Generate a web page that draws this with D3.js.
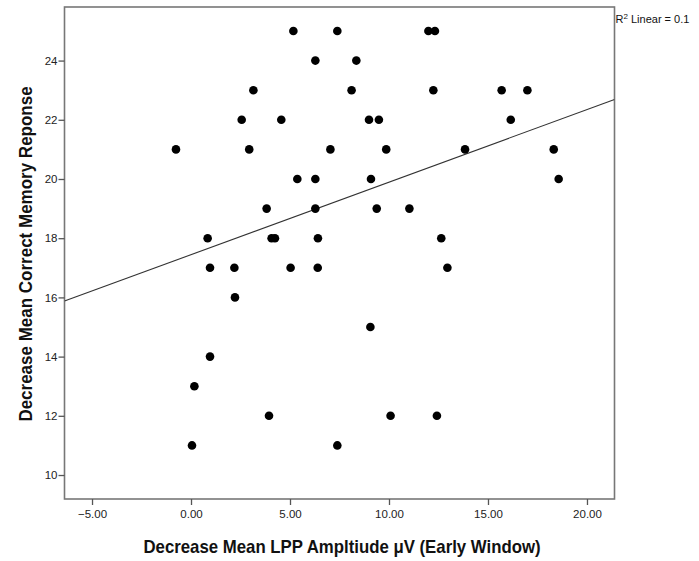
<!DOCTYPE html>
<html>
<head>
<meta charset="utf-8">
<script src="https://cdn.jsdelivr.net/npm/d3@7"></script>
<style>
  body { margin: 0; background: #fff; }
  svg { display: block; font-family: "Liberation Sans", Arial, sans-serif; }
</style>
</head>
<body>
<div id="chart"></div>
<script>
// values
var lppDecrease = [
  5.17, 7.39, 11.99, 12.32,
  6.28, 8.35,
  3.15, 8.11, 12.24, 15.69, 16.99,
  2.56, 4.56, 8.99, 9.49, 16.15,
  -0.76, 2.94, 7.04, 9.86, 13.84, 18.32,
  5.37, 6.28, 9.09, 18.57,
  3.82, 6.28, 9.38, 11.03,
  0.84, 4.07, 4.24, 6.41, 12.64,
  0.96, 2.19, 5.03, 6.40, 12.95,
  2.22,
  9.06,
  0.96,
  0.17,
  3.94, 10.08, 12.42,
  0.05, 7.39
];
var memoryDecrease = [
  25, 25, 25, 25,
  24, 24,
  23, 23, 23, 23, 23,
  22, 22, 22, 22, 22,
  21, 21, 21, 21, 21, 21,
  20, 20, 20, 20,
  19, 19, 19, 19,
  18, 18, 18, 18, 18,
  17, 17, 17, 17, 17,
  16,
  15,
  14,
  13,
  12, 12, 12,
  11, 11
];
var xTicks = [-5, 0, 5, 10, 15, 20];
var yTicks = [10, 12, 14, 16, 18, 20, 22, 24];
var fitLabel = "Linear = 0.1";

var W = 699, H = 561;
var box = { left: 64.5, right: 614.5, top: 7, bottom: 499 };

var svg = d3.select('#chart').append('svg').attr('width', W).attr('height', H);

var x = d3.scaleLinear().domain([-6.39, 21.39]).range([box.left, box.right]);
var y = d3.scaleLinear().domain([9.19, 25.81]).range([box.bottom, box.top]);

var pts = lppDecrease.map(function(v, i){ return { x: v, y: memoryDecrease[i] }; });

// least squares fit line
var mx = d3.mean(pts, function(d){ return d.x; });
var my = d3.mean(pts, function(d){ return d.y; });
var sxy = d3.sum(pts, function(d){ return (d.x - mx) * (d.y - my); });
var sxx = d3.sum(pts, function(d){ return (d.x - mx) * (d.x - mx); });
var slope = sxy / sxx, icpt = my - slope * mx;

// frame
svg.append('rect')
  .attr('x', box.left).attr('y', box.top)
  .attr('width', box.right - box.left).attr('height', box.bottom - box.top)
  .attr('fill', 'none').attr('stroke', '#777').attr('stroke-width', 1.6);

// axes
var xAxis = svg.append('g').attr('transform', 'translate(0,' + box.bottom + ')')
  .call(d3.axisBottom(x).tickValues(xTicks).tickSize(6).tickFormat(d3.format('.2f')));
var yAxis = svg.append('g').attr('transform', 'translate(' + box.left + ',0)')
  .call(d3.axisLeft(y).tickValues(yTicks).tickSize(6).tickFormat(d3.format('d')));
[xAxis, yAxis].forEach(function(g){
  g.select('.domain').remove();
  g.selectAll('.tick line').attr('stroke', '#555').attr('stroke-width', 1.3);
  g.selectAll('.tick text').attr('fill', '#222').style('font-size', '11.5px')
    .style('font-family', '"Liberation Sans", Arial, sans-serif');
});
xAxis.selectAll('.tick text').attr('dy', '0.71em').attr('y', 11);
yAxis.selectAll('.tick text').attr('x', -7);

// fit line, clipped to box
svg.append('clipPath').attr('id', 'clip').append('rect')
  .attr('x', box.left).attr('y', box.top)
  .attr('width', box.right - box.left).attr('height', box.bottom - box.top);
var xd = x.domain();
svg.append('line')
  .attr('clip-path', 'url(#clip)')
  .attr('x1', x(xd[0])).attr('y1', y(icpt + slope * xd[0]))
  .attr('x2', x(xd[1])).attr('y2', y(icpt + slope * xd[1]))
  .attr('stroke', '#333').attr('stroke-width', 1.1);

// points
svg.append('g').selectAll('circle').data(pts).enter().append('circle')
  .attr('cx', function(d){ return x(d.x); })
  .attr('cy', function(d){ return y(d.y); })
  .attr('r', 4.3)
  .attr('fill', '#000');

// R2 label
var lab = svg.append('text').attr('x', box.right + 1).attr('y', 23)
  .style('font-size', '11px').attr('fill', '#111');
lab.append('tspan').text('R');
lab.append('tspan').attr('dy', -4).style('font-size', '8px').text('2');
lab.append('tspan').attr('dy', 4).text(' ' + fitLabel);

// axis titles
svg.append('text')
  .attr('transform', 'translate(342,553) scale(1,1.1)')
  .attr('text-anchor', 'middle').style('font-size', '16.8px').style('font-weight', 'bold')
  .attr('fill', '#111')
  .text('Decrease Mean LPP Ampltiude μV (Early Window)');
svg.append('text')
  .attr('transform', 'translate(32,254) rotate(-90) scale(1,1.05)')
  .attr('text-anchor', 'middle').style('font-size', '17px').style('font-weight', 'bold')
  .attr('fill', '#111')
  .text('Decrease Mean Correct Memory Reponse');
</script>
</body>
</html>
